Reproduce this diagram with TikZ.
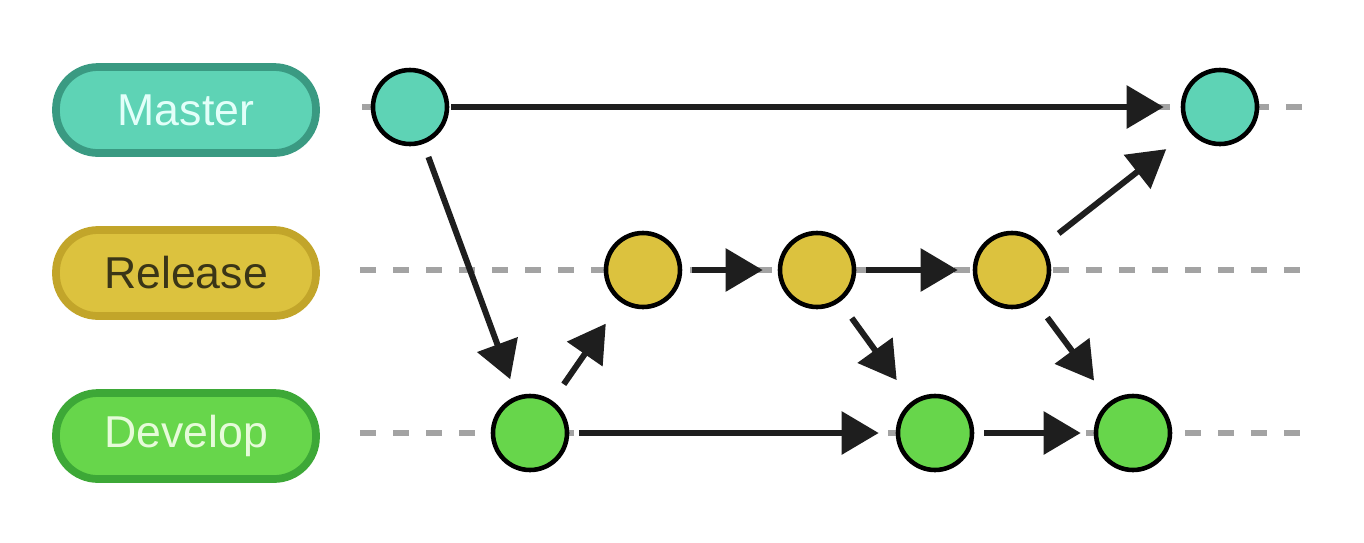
\documentclass[tikz,border=0pt]{standalone}
\usepackage{fontspec}
\setmainfont{Liberation Sans}
\usepackage{tikz}
\usetikzlibrary{arrows.meta}
\definecolor{tealfill}{HTML}{5ED3B5}
\definecolor{tealline}{HTML}{3A9A82}
\definecolor{tealtext}{HTML}{E2FFF9}
\definecolor{goldfill}{HTML}{DCC23E}
\definecolor{goldline}{HTML}{C2A52A}
\definecolor{goldtext}{HTML}{3A3517}
\definecolor{greenfill}{HTML}{67D64B}
\definecolor{greenline}{HTML}{3DA837}
\definecolor{greentext}{HTML}{E6FBD9}
\definecolor{guidegray}{HTML}{A3A3A3}
\definecolor{inkdark}{HTML}{1E1E1E}
\tikzset{
  branch/.style={rounded corners=4.2mm, line width=2.2pt, minimum width=26mm, minimum height=8.6mm, inner sep=0pt, font=\fontsize{12.7}{15}\selectfont},
  commit/.style={circle, draw=black, line width=1.3pt, minimum size=7.4mm, inner sep=0pt},
  guide/.style={draw=guidegray, line width=1.7pt, dash pattern=on 1.6mm off 1.7mm},
  arrow/.style={draw=inkdark, -{Triangle[length=3.7mm,width=4.2mm]}, line width=1.7pt, shorten <=1mm, shorten >=1.5mm},
  diagarrow/.style={arrow, shorten <=2mm, shorten >=2.6mm}
}
\begin{document}
\begin{tikzpicture}
\useasboundingbox (0,0) rectangle (13.64,-5.42);
\coordinate (ms) at (3.62,-1.07);
\coordinate (me) at (13.05,-1.07);
\coordinate (rs) at (3.60,-2.70);
\coordinate (re) at (13.05,-2.70);
\coordinate (ds) at (3.60,-4.33);
\coordinate (de) at (13.05,-4.33);
\draw[guide] (ms) -- (me);
\draw[guide] (rs) -- (re);
\draw[guide] (ds) -- (de);
\node[branch, draw=tealline, fill=tealfill, text=tealtext] (master) at (1.86,-1.10) {Master};
\node[branch, draw=goldline, fill=goldfill, text=goldtext] (release) at (1.86,-2.73) {Release};
\node[branch, draw=greenline, fill=greenfill, text=greentext] (develop) at (1.86,-4.36) {Develop};
\node[commit, fill=tealfill] (m1) at (4.10,-1.07) {};
\node[commit, fill=tealfill] (m2) at (12.20,-1.07) {};
\node[commit, fill=goldfill] (r1) at (6.43,-2.70) {};
\node[commit, fill=goldfill] (r2) at (8.17,-2.70) {};
\node[commit, fill=goldfill] (r3) at (10.12,-2.70) {};
\node[commit, fill=greenfill] (d1) at (5.30,-4.33) {};
\node[commit, fill=greenfill] (d2) at (9.35,-4.33) {};
\node[commit, fill=greenfill] (d3) at (11.33,-4.33) {};
\draw[arrow, shorten <=0.2mm, shorten >=1.7mm] (m1) -- (m2);
\draw[arrow, shorten <=1.4mm, shorten >=1.8mm] (m1) -- (d1);
\draw[diagarrow] (d1) -- (r1);
\draw[arrow] (r1) -- (r2);
\draw[arrow] (r2) -- (r3);
\draw[diagarrow] (r2) -- (d2);
\draw[diagarrow, shorten >=2.9mm] (r3) -- (m2);
\draw[diagarrow] (r3) -- (d3);
\draw[arrow, shorten >=1.7mm] (d1) -- (d2);
\draw[arrow, shorten >=1.3mm] (d2) -- (d3);
\end{tikzpicture}
\end{document}
